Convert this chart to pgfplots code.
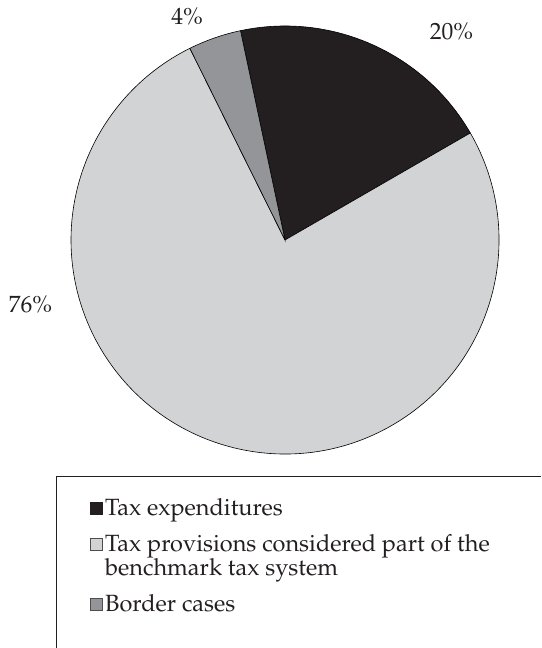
\documentclass[border=0pt]{standalone}
\usepackage[T1]{fontenc}
\usepackage{mathpazo}
\usepackage{pgfplots}
\usepackage{pgfplotstable}
\pgfplotsset{compat=1.18}
\definecolor{texp}{HTML}{231F20}
\definecolor{tprov}{HTML}{D1D3D4}
\definecolor{border}{HTML}{939598}
\definecolor{txt}{HTML}{231F20}

\pgfplotstableread{
share
20
76
4
}\piedata
\pgfplotstablegetelem{0}{share}\of\piedata \edef\sA{\pgfplotsretval}
\pgfplotstablegetelem{1}{share}\of\piedata \edef\sB{\pgfplotsretval}
\pgfplotstablegetelem{2}{share}\of\piedata \edef\sC{\pgfplotsretval}
\pgfmathsetmacro\aZero{102}
\pgfmathsetmacro\aOne{\aZero-3.6*\sA}
\pgfmathsetmacro\aTwo{\aOne-3.6*\sB}
\pgfmathsetmacro\aThree{\aTwo-3.6*\sC}

\newcommand\lblfont{\fontsize{23.5}{24}\selectfont}
\newcommand\legfont{\fontsize{23.5}{24}\selectfont}

\begin{document}
\begin{tikzpicture}
\begin{axis}[
  width=541pt, height=648pt, scale only axis,
  xmin=0, xmax=541, ymin=0, ymax=648,
  hide axis, clip=false,
]
% picture frame (invisible, sets bounding box)
\path (axis cs:0,0) rectangle (axis cs:541,648);
% pie slices
\filldraw[overlay, fill=texp, draw=black, line width=0.6pt]
  (axis cs:285,408) -- ++(\aZero:214pt) arc[start angle=\aZero, end angle=\aOne, radius=214pt] -- cycle;
\filldraw[overlay, fill=tprov, draw=black, line width=0.6pt]
  (axis cs:285,408) -- ++(\aOne:214pt) arc[start angle=\aOne, end angle=\aTwo, radius=214pt] -- cycle;
\filldraw[overlay, fill=border, draw=black, line width=0.6pt]
  (axis cs:285,408) -- ++(\aTwo:214pt) arc[start angle=\aTwo, end angle=\aThree, radius=214pt] -- cycle;
% data labels
\node[anchor=base, text=txt, font=\lblfont, inner sep=0pt] at (axis cs:187,623) {4\%};
\node[anchor=base, text=txt, font=\lblfont, inner sep=0pt] at (axis cs:451.5,608) {20\%};
\node[anchor=base, text=txt, font=\lblfont, inner sep=0pt] at (axis cs:30.5,335.3) {76\%};
% legend frame
\draw[overlay, color=txt, line width=1pt] (axis cs:541,171) -- (axis cs:56,171) -- (axis cs:56,0);
% legend entries
\filldraw[fill=texp, draw=txt, line width=0.5pt] (axis cs:89.8,133.6) rectangle (axis cs:102.2,146.2);
\filldraw[fill=tprov, draw=txt!80, line width=0.5pt] (axis cs:89.8,97.6) rectangle (axis cs:102.2,110.2);
\filldraw[fill=border, draw=txt!80, line width=0.5pt] (axis cs:89.8,37.6) rectangle (axis cs:102.2,50.2);
\node[anchor=base west, text=txt, font=\legfont, inner sep=0pt] at (axis cs:105,132.3) {Tax expenditures};
\node[anchor=base west, text=txt, font=\legfont, inner sep=0pt] at (axis cs:105,96.3) {Tax provisions considered part of the};
\node[anchor=base west, text=txt, font=\legfont, inner sep=0pt] at (axis cs:105,72.3) {benchmark tax system};
\node[anchor=base west, text=txt, font=\legfont, inner sep=0pt] at (axis cs:105,36.3) {Border cases};
\end{axis}
\end{tikzpicture}
\end{document}
